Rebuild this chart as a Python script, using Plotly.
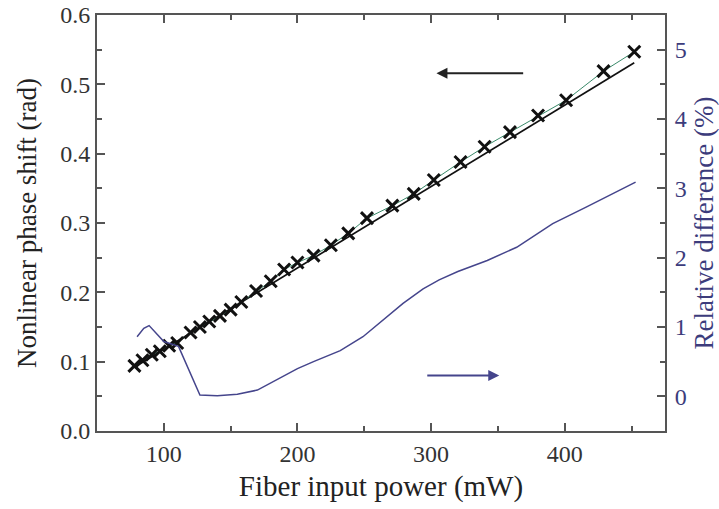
import plotly.graph_objects as go

# Measured nonlinear phase shift (markers, left axis)
power_mw = [78, 84, 91, 97, 104, 110, 120, 127, 134, 142, 150, 158, 169, 180, 190,
            200, 212, 225, 238, 252, 271, 287, 302, 322, 340, 359, 380, 401, 429, 452]
phase_rad = [0.094, 0.102, 0.110, 0.115, 0.123, 0.127, 0.142, 0.150, 0.158, 0.166,
             0.175, 0.186, 0.202, 0.216, 0.233, 0.243, 0.253, 0.268, 0.285, 0.307,
             0.325, 0.342, 0.362, 0.388, 0.410, 0.431, 0.455, 0.477, 0.519, 0.547]

# Linear approximation (black line)
lin_power = [78, 452]
lin_phase = [0.092, 0.531]

# Relative difference (right axis, %)
diff_power = [80, 85, 89, 95, 100, 111, 127, 140, 155, 170, 189, 200, 212, 232, 249,
              264, 279, 294, 306, 320, 342, 364, 391, 416, 453]
diff_pct = [0.86, 0.98, 1.02, 0.90, 0.79, 0.72, 0.02, 0.01, 0.03, 0.09, 0.28, 0.40,
            0.50, 0.66, 0.86, 1.10, 1.34, 1.55, 1.68, 1.80, 1.96, 2.15, 2.49, 2.73, 3.09]

# Arrow indicators (which axis each curve belongs to)
left_arrow_x = [370, 304]
left_arrow_y = 0.516
right_arrow_x = [296, 351]
right_arrow_y = 0.30

FONT = "Liberation Serif"
AXC = "#555555"
BLUE = "#45458c"
BLUE_TXT = "#3c3c7c"

fig = go.Figure()

fig.add_trace(go.Scatter(
    x=lin_power, y=lin_phase, mode="lines",
    line=dict(color="#111111", width=1.7), showlegend=False))

fig.add_trace(go.Scatter(
    x=power_mw, y=phase_rad, mode="lines+markers",
    line=dict(color="#3a8a6a", width=1),
    marker=dict(symbol="x-thin", size=12, color="#111111",
                line=dict(color="#111111", width=3)),
    showlegend=False))

fig.add_trace(go.Scatter(
    x=diff_power, y=diff_pct, mode="lines", yaxis="y2",
    line=dict(color=BLUE, width=1.5), showlegend=False))

fig.add_annotation(x=left_arrow_x[1], y=left_arrow_y, ax=left_arrow_x[0], ay=left_arrow_y,
                   xref="x", yref="y", axref="x", ayref="y", text="", showarrow=True,
                   arrowhead=2, arrowsize=1.1, arrowwidth=2, arrowcolor="#222222")
fig.add_annotation(x=right_arrow_x[1], y=right_arrow_y, ax=right_arrow_x[0], ay=right_arrow_y,
                   xref="x", yref="y2", axref="x", ayref="y2", text="", showarrow=True,
                   arrowhead=2, arrowsize=1.1, arrowwidth=2, arrowcolor=BLUE)

fig.update_layout(
    width=719, height=509,
    margin=dict(l=97, r=54, t=15, b=78),
    paper_bgcolor="white", plot_bgcolor="white",
    font=dict(family=FONT, size=24, color="#333333"),
    xaxis=dict(
        range=[50, 475], tick0=0, dtick=100, automargin=False,
        ticks="inside", ticklen=8, tickwidth=1.5, tickcolor=AXC,
        minor=dict(ticks="inside", dtick=50, ticklen=5, tickwidth=1.5, tickcolor=AXC),
        showline=True, linewidth=2, linecolor=AXC, mirror="ticks",
        showgrid=False, zeroline=False,
        tickfont=dict(family=FONT, size=24, color="#333333"),
        title=dict(text="Fiber input power (mW)", font=dict(family=FONT, size=29, color="#222222"),
                   standoff=10),
    ),
    yaxis=dict(
        range=[0, 0.6], tick0=0, dtick=0.1, tickformat=".1f", automargin=False,
        ticks="inside", ticklen=8, tickwidth=1.5, tickcolor=AXC,
        minor=dict(ticks="inside", dtick=0.05, ticklen=5, tickwidth=1.5, tickcolor=AXC),
        showline=True, linewidth=2, linecolor=AXC,
        showgrid=False, zeroline=False,
        tickfont=dict(family=FONT, size=24, color="#333333"),
        title=dict(text="Nonlinear phase shift (rad)", font=dict(family=FONT, size=27, color="#222222"),
                   standoff=16),
    ),
    yaxis2=dict(
        overlaying="y", side="right", automargin=False,
        range=[-0.5, 5.5], tick0=0, dtick=1,
        ticks="inside", ticklen=8, tickwidth=1.5, tickcolor=AXC,
        minor=dict(ticks="inside", dtick=0.5, ticklen=5, tickwidth=1.5, tickcolor=AXC),
        showline=True, linewidth=2, linecolor=AXC,
        showgrid=False, zeroline=False,
        ticklabelstandoff=3,
        tickfont=dict(family=FONT, size=24, color=BLUE_TXT),
        title=dict(text="Relative difference (%)", font=dict(family=FONT, size=27, color=BLUE_TXT),
                   standoff=8),
    ),
)

fig.write_html("out.html")
